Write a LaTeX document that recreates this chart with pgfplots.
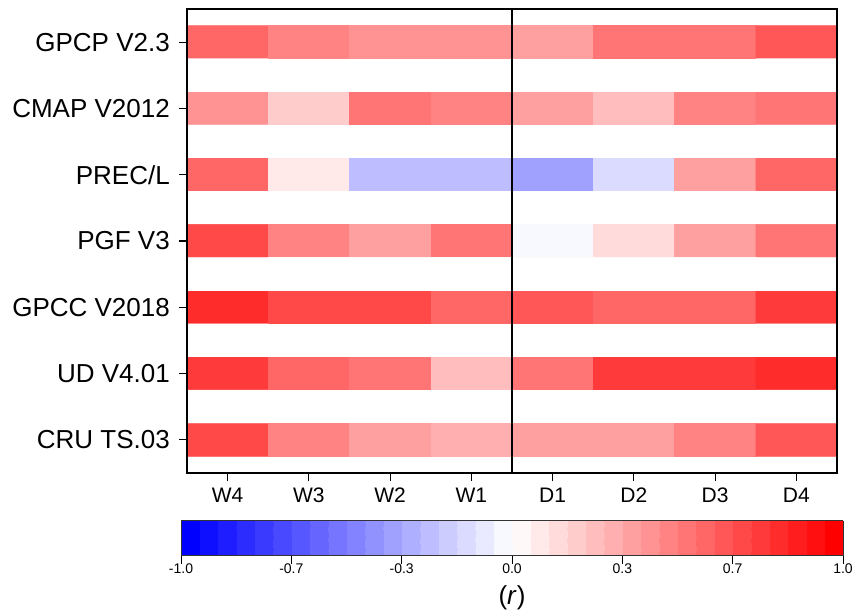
\documentclass[border=0pt]{standalone}
\usepackage{pgfplots}
\pgfplotsset{compat=1.18}
\usepackage{fontspec}
\setmainfont{Liberation Sans}
\begin{document}
\begin{tikzpicture}
\useasboundingbox (0,0) rectangle (858pt,610pt);
\begin{axis}[
  at={(187pt,137pt)}, anchor=south west,
  scale only axis, width=650pt, height=464pt,
  xmin=0.5, xmax=8.5, ymin=0.5, ymax=7.5, y dir=reverse,
  axis line style={line width=1.3pt},
  xtick={1,...,8}, xticklabels={W4,W3,W2,W1,D1,D2,D3,D4},
  ytick={1,...,7},
  yticklabels={GPCP V2.3,CMAP V2012,PREC/L,PGF V3,GPCC V2018,UD V4.01,CRU TS.03},
  xtick pos=left, ytick pos=left, tick align=outside, major tick length=8pt,
  tick style={line width=1.2pt, black},
  xticklabel style={font=\fontsize{21}{24}\selectfont, inner sep=0pt, yshift=-7pt},
  yticklabel style={font=\fontsize{26}{29}\selectfont, inner sep=0pt, xshift=-9pt},
  colormap={br}{
    rgb255=(0,0,255) rgb255=(15,15,255) rgb255=(29,29,255) rgb255=(44,44,255)
    rgb255=(58,58,255) rgb255=(73,73,255) rgb255=(87,87,255) rgb255=(102,102,255)
    rgb255=(117,117,255) rgb255=(131,131,255) rgb255=(146,146,255) rgb255=(160,160,255)
    rgb255=(175,175,255) rgb255=(189,189,255) rgb255=(204,204,255) rgb255=(219,219,255)
    rgb255=(233,233,255) rgb255=(248,248,255)
    rgb255=(255,248,248) rgb255=(255,233,233) rgb255=(255,219,219) rgb255=(255,204,204)
    rgb255=(255,189,189) rgb255=(255,175,175) rgb255=(255,160,160) rgb255=(255,146,146)
    rgb255=(255,131,131) rgb255=(255,117,117) rgb255=(255,102,102) rgb255=(255,87,87)
    rgb255=(255,73,73) rgb255=(255,58,58) rgb255=(255,44,44) rgb255=(255,29,29)
    rgb255=(255,15,15) rgb255=(255,0,0)},
  colormap access=piecewise constant,
  point meta min=-1, point meta max=1,
  colorbar horizontal,
  colorbar style={
    at={(parent axis.south west)}, anchor=north west,
    xshift=-6pt, yshift=-39pt,
    scale only axis, width=662pt, height=35pt,
    xtick={-1,-0.666667,-0.333333,0,0.333333,0.666667,1},
    xticklabels={-1.0,-0.7,-0.3,0.0,0.3,0.7,1.0},
    xtick pos=left, tick align=outside, major tick length=8pt,
    tick style={line width=0.8pt, black},
    xticklabel style={font=\fontsize{14}{16}\selectfont, inner sep=0pt, yshift=0pt},
    xlabel={(\textit{r})}, xlabel style={font=\fontsize{26}{30}\selectfont, inner sep=0pt, yshift=-12pt},
    axis line style={line width=0.8pt, black!80},
  },
  axis on top,
]
\addplot[matrix plot*, mesh/cols=8, point meta=explicit] table[meta=c] {
x y c
1 1 0.58
2 1 0.47
3 1 0.42
4 1 0.42
5 1 0.36
6 1 0.53
7 1 0.53
8 1 0.64
1 1.5 0
2 1.5 0
3 1.5 0
4 1.5 0
5 1.5 0
6 1.5 0
7 1.5 0
8 1.5 0
1 2 0.42
2 2 0.19
3 2 0.53
4 2 0.47
5 2 0.36
6 2 0.25
7 2 0.47
8 2 0.53
1 2.5 0
2 2.5 0
3 2.5 0
4 2.5 0
5 2.5 0
6 2.5 0
7 2.5 0
8 2.5 0
1 3 0.58
2 3 0.08
3 3 -0.25
4 3 -0.25
5 3 -0.36
6 3 -0.14
7 3 0.36
8 3 0.58
1 3.5 0
2 3.5 0
3 3.5 0
4 3.5 0
5 3.5 0
6 3.5 0
7 3.5 0
8 3.5 0
1 4 0.69
2 4 0.47
3 4 0.36
4 4 0.53
5 4 -0.03
6 4 0.14
7 4 0.36
8 4 0.53
1 4.5 0
2 4.5 0
3 4.5 0
4 4.5 0
5 4.5 0
6 4.5 0
7 4.5 0
8 4.5 0
1 5 0.81
2 5 0.69
3 5 0.69
4 5 0.58
5 5 0.64
6 5 0.58
7 5 0.58
8 5 0.75
1 5.5 0
2 5.5 0
3 5.5 0
4 5.5 0
5 5.5 0
6 5.5 0
7 5.5 0
8 5.5 0
1 6 0.75
2 6 0.58
3 6 0.53
4 6 0.25
5 6 0.53
6 6 0.75
7 6 0.75
8 6 0.81
1 6.5 0
2 6.5 0
3 6.5 0
4 6.5 0
5 6.5 0
6 6.5 0
7 6.5 0
8 6.5 0
1 7 0.69
2 7 0.47
3 7 0.36
4 7 0.31
5 7 0.36
6 7 0.36
7 7 0.47
8 7 0.64
};
\addplot[fill=white, draw=none] coordinates {(0.5,1.25) (8.5,1.25) (8.5,1.75) (0.5,1.75)} -- cycle;
\addplot[fill=white, draw=none] coordinates {(0.5,2.25) (8.5,2.25) (8.5,2.75) (0.5,2.75)} -- cycle;
\addplot[fill=white, draw=none] coordinates {(0.5,3.25) (8.5,3.25) (8.5,3.75) (0.5,3.75)} -- cycle;
\addplot[fill=white, draw=none] coordinates {(0.5,4.25) (8.5,4.25) (8.5,4.75) (0.5,4.75)} -- cycle;
\addplot[fill=white, draw=none] coordinates {(0.5,5.25) (8.5,5.25) (8.5,5.75) (0.5,5.75)} -- cycle;
\addplot[fill=white, draw=none] coordinates {(0.5,6.25) (8.5,6.25) (8.5,6.75) (0.5,6.75)} -- cycle;
\addplot[black, line width=1.3pt] coordinates {(4.5,0.5) (4.5,7.5)};
\end{axis}
\end{tikzpicture}
\end{document}
